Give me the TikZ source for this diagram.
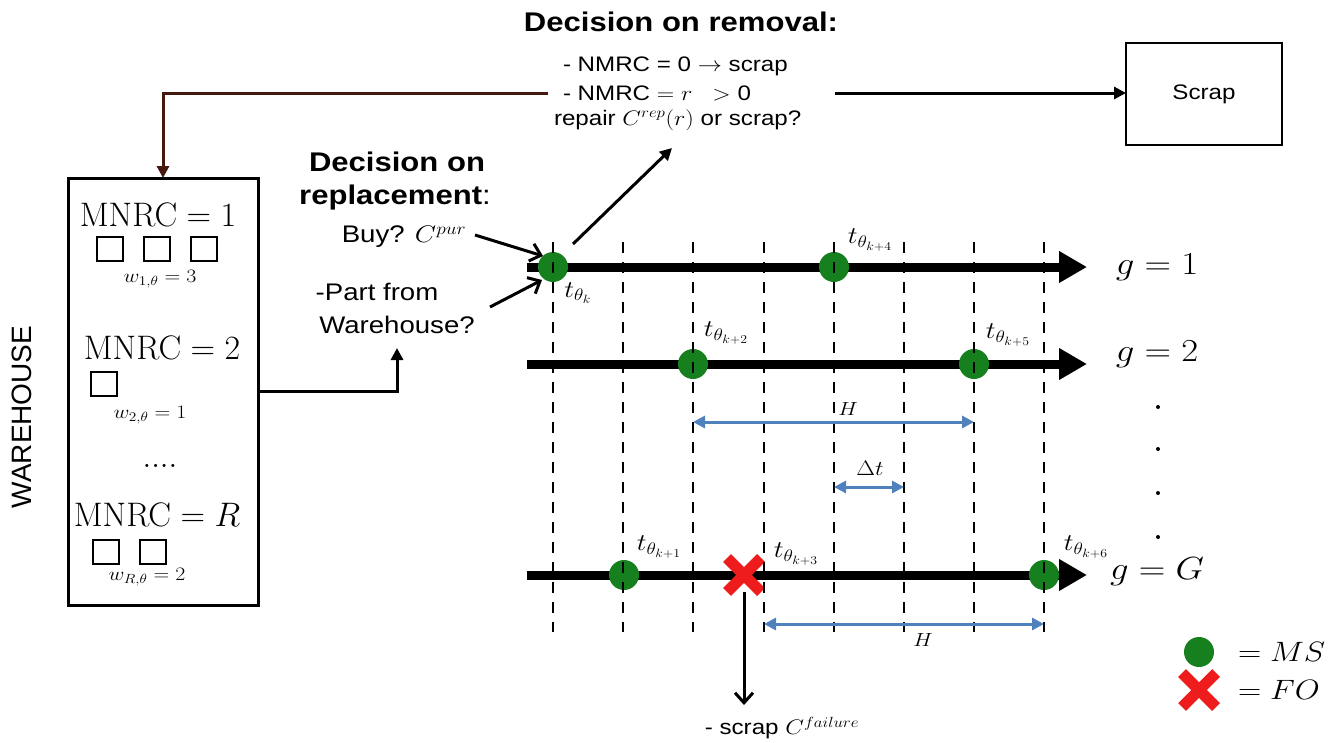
\RequirePackage{fix-cm}
\documentclass[tikz,border=0pt]{standalone}
\usepackage[no-math]{fontspec}
\setmainfont{Liberation Sans}
\usepackage{graphicx}
\usetikzlibrary{arrows.meta}
\definecolor{msgreen}{RGB}{22,128,30}
\definecolor{foRed}{RGB}{238,28,28}
\definecolor{hblue}{RGB}{79,129,189}
\definecolor{brownline}{RGB}{70,25,15}
\newcommand\hs[1]{\scalebox{1.15}[1]{#1}}
\newcommand\fs[1]{\fontsize{#1}{#1}\selectfont}
\newcommand\tlab[1]{\fs{24}\hs{$t_{\theta_{#1}}$}}
\begin{document}
\begin{tikzpicture}[x=1pt,y=-1pt,
 every node/.style={inner sep=0pt,outer sep=0pt},
 tline/.style={line width=9pt,-{Triangle[length=28pt,width=30pt]}},
 gridline/.style={line width=2.5pt,dash pattern=on 11pt off 9pt},
 ms/.style={circle,fill=msgreen,minimum size=30pt},
 fo/.style={minimum size=34pt},
 cross/.style={foRed,line width=11pt},
 span/.style={hblue,line width=3pt,{Triangle[length=12pt,width=12pt]}-{Triangle[length=12pt,width=12pt]}},
 conn/.style={line width=3pt,-{Triangle[length=12pt,width=12pt]}},
 barb/.style={line width=3pt,-{Straight Barb[length=10pt,width=18pt]}},
 sq/.style={draw,line width=1.5pt,minimum width=26pt,minimum height=24pt},
]
\useasboundingbox (0,0) rectangle (1340,742);

% ---------- warehouse ----------
\node[rotate=90] (whlabel) at (22,417) {\fs{28}WAREHOUSE};
\node[draw,line width=3pt,minimum width=190pt,minimum height=427pt] (wh) at (163,391.5) {};
\node (mn1) at (158,215) {\fs{34}$\mathrm{MNRC}=1$};
\node[sq] (q11) at (110,249) {};
\node[sq] (q12) at (157,249) {};
\node[sq] (q13) at (204,249) {};
\node (w1) at (160,279) {\fs{19}\hs{$w_{1,\theta}=3$}};
\node (mn2) at (162,348) {\fs{34}$\mathrm{MNRC}=2$};
\node[sq] (q21) at (104,384) {};
\node (w2) at (150,415) {\fs{19}\hs{$w_{2,\theta}=1$}};
\node (dots) at (160,466) {\fs{32}$....$};
\node (mnR) at (157,515) {\fs{34}$\mathrm{MNRC}=R$};
\node[sq] (qR1) at (106,552) {};
\node[sq] (qR2) at (153,552) {};
\node (wR) at (147,577) {\fs{19}\hs{$w_{R,\theta}=2$}};

% ---------- decision on removal ----------
\node (remt) at (681,22) {\fs{27}\hs{\bfseries Decision on removal:}};
\node[anchor=west] (r1) at (563,66) {\fs{21}\hs{- NMRC = 0 $\rightarrow$ scrap}};
\node[anchor=west] (r2) at (563,93) {\fs{21}\hs{- NMRC $=r\;\;>$ 0}};
\node[anchor=west] (r3) at (554,120) {\fs{21}\hs{repair $C^{rep}(r)$ or scrap?}};
\node[draw,line width=2.5pt,minimum width=156pt,minimum height=102pt] (scrap) at (1204,94) {\fs{21}\hs{Scrap}};
\coordinate (brs) at (548,93);
\draw[brownline,line width=3pt,-{Triangle[length=12pt,width=12pt]}] (brs) -| (wh.north);
\coordinate (scs) at (835,93);
\draw[conn] (scs) -- (scs -| scrap.west);

% ---------- decision on replacement ----------
\node (rep1) at (397,162) {\fs{27}\hs{\bfseries Decision on}};
\node (rep2) at (395,198) {\fs{27}\hs{\textbf{replacement}:}};
\node (buy) at (404,237) {\fs{24}\hs{Buy? $C^{pur}$}};
\node (part1) at (377,292) {\fs{24}\hs{-Part from}};
\node (part2) at (397,325) {\fs{24}\hs{Warehouse?}};
\coordinate (whup) at (397,348);
\draw[conn] (wh.east) -| (whup);

% ---------- timelines ----------
\coordinate (s1) at (527,267); \coordinate (e1) at (1087,267);
\coordinate (s2) at (527,364); \coordinate (e2) at (1087,364);
\coordinate (sG) at (527,575); \coordinate (eG) at (1087,575);
\draw[tline] (s1) -- (e1);
\draw[tline] (s2) -- (e2);
\draw[tline] (sG) -- (eG);

\node[ms] (m0) at (553,267) {};
\node[ms] (m4) at (834,267) {};
\node[ms] (m2) at (693,364) {};
\node[ms] (m5) at (974,364) {};
\node[ms] (m1) at (624,575) {};
\node[ms] (m6) at (1044,575) {};
\node[fo] (f3) at (744,575) {};
\draw[cross] (f3.north west) -- (f3.south east);
\draw[cross] (f3.north east) -- (f3.south west);

\foreach \x [count=\i] in {553,623,693,764,834,904,974,1044} {
  \coordinate (vt\i) at (\x,242);
  \coordinate (vb\i) at (\x,632);
  \draw[gridline] (vt\i) -- (vb\i);
}

\node (t0) at (578,293) {\tlab{k}};
\node (t4) at (870,240) {\tlab{k+4}};
\node (t2) at (726,333) {\tlab{k+2}};
\node (t5) at (1008,335) {\tlab{k+5}};
\node (t1) at (659,547) {\tlab{k+1}};
\node (t3) at (796,554) {\tlab{k+3}};
\node (t6) at (1086,547) {\tlab{k+6}};

% spans
\coordinate (h1a) at (693,422); \coordinate (h1b) at (974,422);
\coordinate (dta) at (834,487); \coordinate (dtb) at (904,487);
\coordinate (h2a) at (764,624); \coordinate (h2b) at (1044,624);
\draw[span] (h1a) -- (h1b);
\draw[span] (dta) -- (dtb);
\draw[span] (h2a) -- (h2b);
\node (hl1) at (848,409) {\fs{19}\hs{$H$}};
\node (dtl) at (870,468) {\fs{21}\hs{$\Delta t$}};
\node (hl2) at (923,640) {\fs{19}\hs{$H$}};

% arrows of decisions
\coordinate (bs) at (475,235); \coordinate (be) at (543,256);
\coordinate (ps) at (490,307); \coordinate (pe) at (542,280);
\draw[barb] (bs) -- (be);
\draw[barb] (ps) -- (pe);
\coordinate (ras) at (573,244); \coordinate (rae) at (672,148);
\draw[conn] (ras) -- (rae);
\coordinate (fe) at (744,705);
\draw[barb] (f3.south) -- (fe);
\node (fail) at (782,728) {\fs{21}\hs{- scrap $C^{failure}$}};

% group labels
\node (g1) at (1157,267) {\fs{32}\hs{$g=1$}};
\node (g2) at (1157,354) {\fs{32}\hs{$g=2$}};
\node (gG) at (1157,572) {\fs{32}\hs{$g=G$}};
\foreach \y [count=\i] in {407,449,493,537} {
  \node[circle,fill=black,minimum size=4pt] (vd\i) at (1158,\y) {};
}

% legend
\node[ms] (lms) at (1199,652) {};
\node[anchor=west] (lmst) at (1238,652) {\fs{28}\hs{$=MS$}};
\node[fo] (lfo) at (1199,690) {};
\draw[cross] (lfo.north west) -- (lfo.south east);
\draw[cross] (lfo.north east) -- (lfo.south west);
\node[anchor=west] (lfot) at (1238,690) {\fs{28}\hs{$=FO$}};
\end{tikzpicture}
\end{document}
